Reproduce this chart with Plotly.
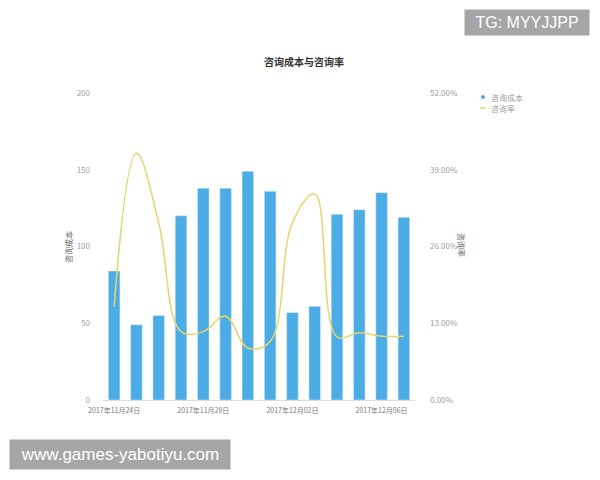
import plotly.graph_objects as go

dates = ["2017年11月24日", "2017年11月25日", "2017年11月26日", "2017年11月27日",
         "2017年11月28日", "2017年11月29日", "2017年11月30日", "2017年12月01日",
         "2017年12月02日", "2017年12月03日", "2017年12月04日", "2017年12月05日",
         "2017年12月06日", "2017年12月07日"]
cost = [84, 49, 55, 120, 138, 138, 149, 136, 57, 61, 121, 124, 135, 119]
rate = [15.8, 41.8, 30.0, 11.6, 11.6, 14.2, 8.8, 9.9, 30.0, 34.9, 10.7, 11.4, 10.8, 10.8]
tick_dates = ["2017年11月24日", "2017年11月28日", "2017年12月02日", "2017年12月06日"]
left_ticks = [0, 50, 100, 150, 200]
right_ticks = [0, 13, 26, 39, 52]
legend_names = ["咨询成本", "咨询率"]

FONT = "Noto Sans CJK SC"
BAR = "#4BACE6"
LINE = "#E6D46E"
GRAY = "#a0a0a0"

# page body has an 8px margin; work in reference pixel coords and shift
OFF = 8
W, H = 600 - OFF, 480 - OFF
L, R, T, B = 103 - OFF, 600 - 415, 93 - OFF, 80
PW, PH = W - L - R, H - T - B


def px(x):
    return (x - OFF - L) / PW


def py(y):
    return (H - B - (y - OFF)) / PH


fig = go.Figure()
fig.add_trace(go.Bar(x=dates, y=cost, marker_color=BAR, name=legend_names[0],
                     showlegend=False, yaxis="y"))
fig.add_trace(go.Scatter(x=dates, y=rate, mode="lines", name=legend_names[1],
                         line=dict(color=LINE, width=1.5, shape="spline", smoothing=1.1),
                         showlegend=False, yaxis="y2"))

shapes = [
    dict(type="circle", xref="paper", yref="paper",
         x0=px(481), x1=px(485), y0=py(99), y1=py(95),
         fillcolor=BAR, line=dict(width=0)),
    dict(type="line", xref="paper", yref="paper",
         x0=px(480), x1=px(486), y0=py(108), y1=py(108),
         line=dict(color=LINE, width=1.5)),
]

fig.update_layout(
    width=W, height=H,
    paper_bgcolor="white", plot_bgcolor="white",
    margin=dict(l=L, r=R, t=T, b=B, autoexpand=False),
    font=dict(family=FONT, size=8, color=GRAY),
    bargap=0.48,
    showlegend=False,
    title=dict(text="<b>咨询成本与咨询率</b>", x=0.5, xanchor="center",
               y=1 - (62 - OFF) / H, yanchor="middle",
               font=dict(family=FONT, size=10, color="#333333")),
    xaxis=dict(type="category", tickvals=tick_dates, ticktext=tick_dates,
               showgrid=False, showline=True, linecolor="#dddddd", linewidth=1,
               ticks="", tickfont=dict(size=7, color="#777777"), zeroline=False,
               ticklabelstandoff=4),
    yaxis=dict(range=[0, 200], tickvals=left_ticks, showgrid=False, showline=False,
               zeroline=False, tickfont=dict(size=8, color=GRAY), ticklabelstandoff=12),
    yaxis2=dict(range=[0, 52], tickvals=right_ticks,
                ticktext=[f"{v:.2f}%" for v in right_ticks],
                overlaying="y", side="right", showgrid=False, showline=False,
                zeroline=False, tickfont=dict(size=8, color=GRAY), ticklabelstandoff=14),
    shapes=shapes,
    annotations=[
        dict(text=legend_names[0], xref="paper", yref="paper", x=px(489), y=py(97),
             xanchor="left", yanchor="middle", showarrow=False,
             font=dict(size=8, color=GRAY)),
        dict(text=legend_names[1], xref="paper", yref="paper", x=px(489), y=py(108),
             xanchor="left", yanchor="middle", showarrow=False,
             font=dict(size=8, color=GRAY)),
        dict(text="咨询成本", xref="paper", yref="paper", x=px(68), y=py(247),
             xanchor="center", yanchor="middle",
             textangle=-90, showarrow=False, font=dict(size=8, color="#666666")),
        dict(text="咨询率", xref="paper", yref="paper", x=px(462), y=py(245),
             xanchor="center", yanchor="middle",
             textangle=90, showarrow=False, font=dict(size=8, color="#666666")),
        dict(text="TG: MYYJJPP", xref="paper", yref="paper",
             x=px(527), y=py(22.5), xanchor="center", yanchor="middle", showarrow=False,
             bgcolor="#a6a6a6", font=dict(family="Liberation Sans", size=16, color="white"),
             borderpad=0, width=124, height=25),
        dict(text="www.games-yabotiyu.com", xref="paper", yref="paper",
             x=px(120), y=py(454.5), xanchor="center", yanchor="middle", showarrow=False,
             bgcolor="#a6a6a6", font=dict(family="Liberation Sans", size=17, color="white"),
             borderpad=0, width=220, height=29),
    ],
)

fig.write_html("out.html")
